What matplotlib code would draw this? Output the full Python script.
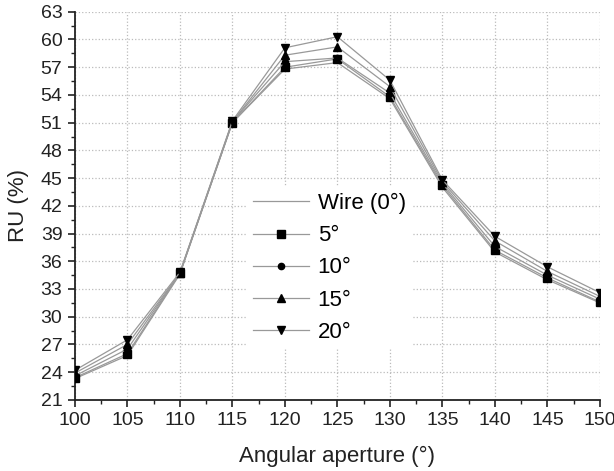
import matplotlib
matplotlib.use("Agg")
import matplotlib.pyplot as plt
from matplotlib.ticker import MultipleLocator

plt.rcParams['font.family'] = ['Liberation Sans', 'DejaVu Sans']

angles = [100, 105, 110, 115, 120, 125, 130, 135, 140, 145, 150]
wire = [23.3, 25.8, 34.6, 51.0, 56.8, 57.5, 53.6, 44.0, 37.0, 34.0, 31.5]
s5   = [23.4, 26.0, 34.7, 51.0, 57.0, 57.9, 53.8, 44.2, 37.2, 34.2, 31.6]
s10  = [23.6, 26.5, 34.7, 51.1, 57.6, 58.0, 54.2, 44.4, 37.6, 34.5, 31.9]
s15  = [23.9, 27.0, 34.7, 51.1, 58.3, 59.2, 54.9, 44.6, 38.2, 34.9, 32.2]
s20  = [24.2, 27.5, 34.8, 51.2, 59.1, 60.3, 55.6, 44.8, 38.7, 35.4, 32.6]
labels = ['Wire (0°)', '5°', '10°', '15°', '20°']
markers = [None, 's', 'o', '^', 'v']
series = [wire, s5, s10, s15, s20]

fig = plt.figure(figsize=(6.14, 4.71), dpi=100)
ax = fig.add_axes([0.122, 0.151, 0.855, 0.824])

for vals, lab, m in zip(series, labels, markers):
    ax.plot(angles, vals, color='#999999', lw=0.9, marker=m, markersize=6 if m != 'o' else 4.5,
            markerfacecolor='black', markeredgecolor='black', label=lab, zorder=3)

ax.set_xlim(100, 150)
ax.set_ylim(21, 63)
ax.xaxis.set_major_locator(MultipleLocator(5))
ax.xaxis.set_minor_locator(MultipleLocator(2.5))
ax.yaxis.set_major_locator(MultipleLocator(3))
ax.yaxis.set_minor_locator(MultipleLocator(1.5))
ax.tick_params(axis='both', which='major', direction='out', length=5, width=1.2, labelsize=14, colors='#222222', pad=4)
ax.tick_params(axis='both', which='minor', direction='out', length=3, width=1.0, colors='#222222')
for sp in ['top', 'right']:
    ax.spines[sp].set_visible(False)
for sp in ['left', 'bottom']:
    ax.spines[sp].set_linewidth(1.3)
    ax.spines[sp].set_color('#222222')
ax.grid(True, which='major', linestyle=':', color='#bbbbbb', lw=0.9)
ax.set_axisbelow(True)

ax.set_xlabel('Angular aperture (°)', fontsize=16, labelpad=12, color='#222222')
ax.set_ylabel('RU (%)', fontsize=16, labelpad=8, color='#222222')

leg = ax.legend(loc='center', bbox_to_anchor=(0.485, 0.34), fontsize=16, frameon=True,
                handlelength=2.5, handletextpad=0.4, labelspacing=0.5, edgecolor='white',
                framealpha=1.0, borderpad=0.3, borderaxespad=0)
leg.get_frame().set_linewidth(0)

fig.savefig('out.png', dpi=100)
